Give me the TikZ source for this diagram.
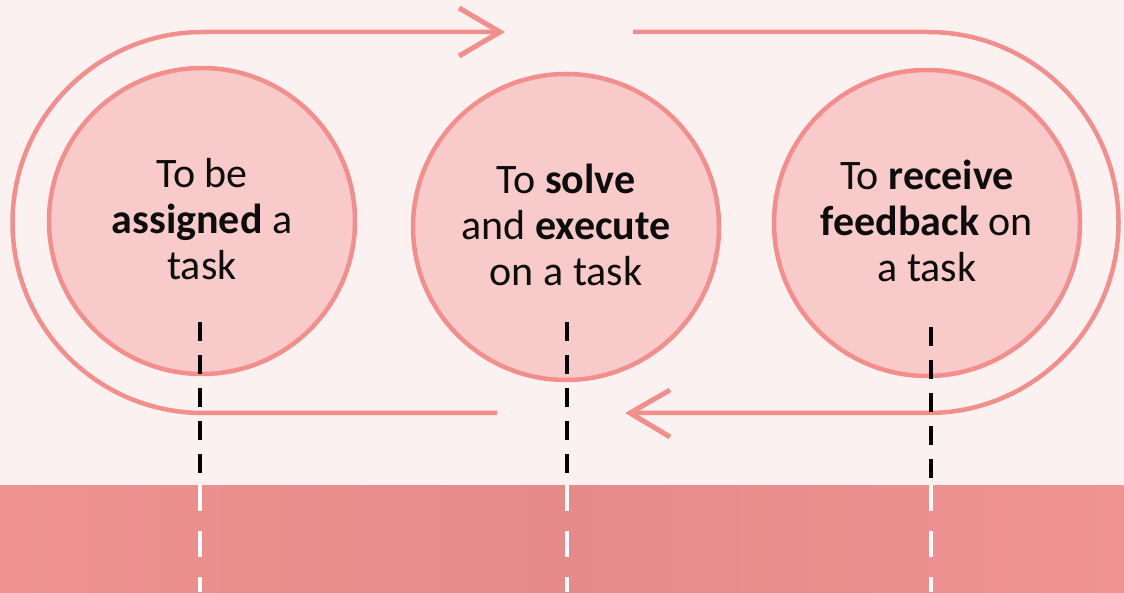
\documentclass[tikz,border=0pt]{standalone}
\usepackage{fontspec}
\setmainfont{Carlito}
\definecolor{bgc}{HTML}{FCF1F1}
\definecolor{ringc}{HTML}{F28E8C}
\definecolor{fillc}{HTML}{F8CACA}
\definecolor{bandl}{HTML}{EF9290}
\definecolor{bandm}{HTML}{E68B8A}
\definecolor{bandr}{HTML}{F09391}
\definecolor{txtc}{HTML}{0D0D0D}
\begin{document}
\begin{tikzpicture}[x=1pt,y=1pt,
  stage/.style={circle, draw=ringc, fill=fillc, line width=4.5pt, minimum size=306pt, inner sep=0pt},
  label/.style={align=center, text=txtc, font=\fontsize{42}{46}\selectfont},
  loop/.style={draw=ringc, line width=4.5pt},
  chevron/.style={draw=ringc, line width=5pt, line join=miter},
  blackdash/.style={draw=black, line width=4.5pt, dash pattern=on 19pt off 14pt},
  whitedash/.style={draw=white, line width=4.5pt, dash pattern=on 26pt off 20pt}]
\fill[bgc] (0,0) rectangle (1124,592);
\useasboundingbox (0,0) rectangle (1124,592);
% bottom band
\shade[left color=bandl, right color=bandr, middle color=bandm] (0,0) rectangle (1124,107);
\coordinate (bandtop) at (0,107);
\coordinate (bandbot) at (0,0);
% outer loop
\draw[loop] (497,179) -- (203,179) arc[start angle=270, end angle=90, radius=190.5] -- (498,560);
\draw[loop] (633,560) -- (928,560) arc[start angle=90, end angle=-90, radius=190.5] -- (632,179);
\draw[chevron] (459,584) -- (500,560) -- (459,536);
\draw[chevron] (670,202) -- (630,179) -- (670,155);
% circles
\node[stage] (c1) at (202,371) {};
\node[stage] (c2) at (566,365) {};
\node[stage] (c3) at (927,369) {};
\node[label] (t1) at ([yshift=2pt]c1) {To be\\\textbf{assigned} a\\task};
\node[label] (t2) at ([yshift=2pt]c2) {To \textbf{solve}\\and \textbf{execute}\\on a task};
\node[label] (t3) at ([yshift=2pt]c3) {To \textbf{receive}\\\textbf{feedback} on\\a task};
% dashed lines
\coordinate (d1) at (200,270);
\coordinate (d2) at (567,270);
\coordinate (d3) at (931,265);
\foreach \d in {d1,d2,d3}{
  \draw[blackdash] (\d) -- (\d |- bandtop);
  \draw[whitedash] (\d |- bandtop) -- (\d |- bandbot);
}
\end{tikzpicture}
\end{document}
